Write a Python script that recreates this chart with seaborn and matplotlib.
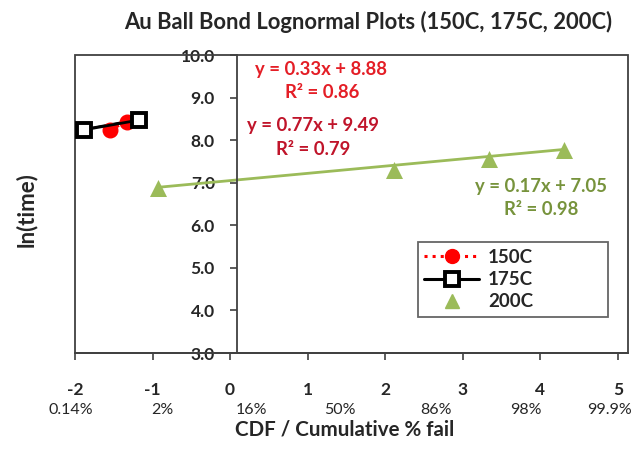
import matplotlib
matplotlib.use("Agg")
import matplotlib.pyplot as plt
from matplotlib.patches import Rectangle
from matplotlib.lines import Line2D
import seaborn as sns
import pandas as pd
import numpy as np

# Lognormal plot data: x = standard normal quantile, y = ln(time to fail)
x_150 = [-1.55, -1.33]
y_150 = [8.24, 8.43]
x_175 = [-1.89, -1.18]
y_175 = [8.24, 8.47]
x_200 = [-0.93, 2.11, 3.34, 4.30]
y_200 = [6.87, 7.30, 7.55, 7.77]

# Linear fits: (slope, intercept, R^2)
fit_150 = (0.77, 9.49, 0.79)
fit_175 = (0.33, 8.88, 0.86)
fit_200 = (0.17, 7.05, 0.98)

x_ticks = [-2, -1, 0, 1, 2, 3, 4, 5]
pct_labels = ["0.14%", "2%", "16%", "50%", "86%", "98%", "99.9%"]
pct_pos = [-2.06, -0.88, 0.28, 1.41, 2.65, 3.81, 4.89]
y_ticks = [3.0, 4.0, 5.0, 6.0, 7.0, 8.0, 9.0, 10.0]

sns.set_theme(style="white")
plt.rcParams["font.family"] = ["Lato", "DejaVu Sans"]

RED = "#ff0000"
GREEN = "#9bbb59"
GREEN_TXT = "#77933c"
DARK = "#262626"

fig = plt.figure(figsize=(6.41, 4.51), dpi=100)
ax = fig.add_axes([75 / 641, 1 - 353 / 451, (628 - 75) / 641, (353 - 55) / 451])

df150 = pd.DataFrame({"x": x_150, "y": y_150})
df175 = pd.DataFrame({"x": x_175, "y": y_175})
df200 = pd.DataFrame({"x": x_200, "y": y_200})


def trend(xs, fit):
    xr = np.array([min(xs), max(xs)])
    return pd.DataFrame({"x": xr, "y": fit[0] * xr + fit[1]})


# trendlines from the fitted equations
sns.lineplot(data=trend(x_200, fit_200), x="x", y="y", ax=ax, color=GREEN,
             linewidth=2, legend=False, zorder=2)
sns.lineplot(data=trend(x_150, fit_150), x="x", y="y", ax=ax, color="#c00000",
             linewidth=1.2, legend=False, zorder=2)
sns.lineplot(data=trend(x_175, fit_175), x="x", y="y", ax=ax, color="black",
             linewidth=1.5, legend=False, zorder=2)

# series
ax.plot(df150["x"], df150["y"], linestyle=":", color=RED, linewidth=2,
        marker="o", markersize=10.5, markerfacecolor=RED, markeredgecolor=RED, zorder=3)
ax.plot(df175["x"], df175["y"], linestyle="-", color="black", linewidth=2,
        marker="s", markersize=10, markerfacecolor="white", markeredgecolor="black",
        markeredgewidth=2.8, zorder=4)
sns.scatterplot(data=df200, x="x", y="y", ax=ax, marker="^", s=150, color=GREEN,
                edgecolor=GREEN, linewidth=0, zorder=5, legend=False)

ax.set_xlim(-2, 5.13)
ax.set_ylim(3, 10)

# axes: y axis crossing near x = 0, framed plot area
for s in ["top", "right"]:
    ax.spines[s].set_visible(False)
ax.spines["left"].set_position(("data", 0.09))
ax.spines["left"].set_color("#404040")
ax.spines["left"].set_linewidth(1.3)
ax.spines["bottom"].set_color("#404040")
ax.spines["bottom"].set_linewidth(1.3)
ax.add_patch(Rectangle((0, 0), 1, 1, transform=ax.transAxes, fill=False,
                       edgecolor="#404040", linewidth=1.3, clip_on=False, zorder=1))

ax.set_yticks(y_ticks)
ax.set_yticklabels([f"{v:.1f}" for v in y_ticks])
ax.set_xticks(x_ticks)
ax.set_xticklabels([str(v) for v in x_ticks])
ax.tick_params(axis="y", direction="out", length=5, width=1.2, color="#404040",
               pad=11, labelsize=12.5, labelcolor=DARK, left=True)
ax.tick_params(axis="x", direction="out", length=5, width=1.2, color="#404040",
               pad=16, labelsize=12.5, labelcolor=DARK, bottom=True)
for lab in ax.get_xticklabels() + ax.get_yticklabels():
    lab.set_fontweight("bold")

ax.set_xlabel("")
ax.set_ylabel("")

# cumulative percent labels under the quantile axis
for p, lab in zip(pct_pos, pct_labels):
    ax.text(p, -0.19, lab, transform=ax.get_xaxis_transform(), ha="center",
            va="center", fontsize=11.5, color=DARK, clip_on=False)

fig.text(345 / 641, 1 - 430 / 451, "CDF / Cumulative % fail", ha="center",
         va="center", fontsize=14.8, fontweight="bold", color=DARK)
fig.text(26 / 641, 1 - 210 / 451, "ln(time)", ha="center", va="center",
         rotation=90, fontsize=16, fontweight="bold", color=DARK)
fig.text(368 / 641, 1 - 22 / 451, "Au Ball Bond Lognormal Plots (150C, 175C, 200C)",
         ha="center", va="center", fontsize=15.8, fontweight="bold", color=DARK)


def px(xp, yp):
    return (xp / 641, 1 - yp / 451)


def eq_text(fit):
    return f"y = {fit[0]:.2f}x + {fit[1]:.2f}", f"R² = {fit[2]:.2f}"


EQ = 13.3
e, r = eq_text(fit_175)
fig.text(*px(321, 69), e, ha="center", va="center", fontsize=EQ, fontweight="bold", color="#e41e26")
fig.text(*px(322, 92), r, ha="center", va="center", fontsize=EQ, fontweight="bold", color="#e41e26")
e, r = eq_text(fit_150)
fig.text(*px(313, 125), e, ha="center", va="center", fontsize=EQ, fontweight="bold", color="#c0142a")
fig.text(*px(313, 150), r, ha="center", va="center", fontsize=EQ, fontweight="bold", color="#c0142a")
e, r = eq_text(fit_200)
fig.text(*px(541, 187), e, ha="center", va="center", fontsize=EQ, fontweight="bold", color=GREEN_TXT)
fig.text(*px(541, 210), r, ha="center", va="center", fontsize=EQ, fontweight="bold", color=GREEN_TXT)

handles = [
    Line2D([], [], linestyle=":", color=RED, linewidth=2.2, marker="o", markersize=10,
           markerfacecolor=RED, markeredgecolor=RED),
    Line2D([], [], linestyle="-", color="black", linewidth=2.2, marker="s", markersize=9.5,
           markerfacecolor="white", markeredgecolor="black", markeredgewidth=2.8),
    Line2D([], [], linestyle="none", color=GREEN, marker="^", markersize=10,
           markerfacecolor=GREEN, markeredgecolor=GREEN),
]
leg = ax.legend(handles, ["150C", "175C", "200C"], loc="lower left",
                bbox_to_anchor=(0.62, 0.121, 0.344, 0.251), mode="expand",
                borderaxespad=0, frameon=True, fancybox=False, fontsize=13.5,
                labelspacing=0.28, handlelength=2.9, handletextpad=0.5,
                borderpad=0.35)
leg.get_frame().set_edgecolor("#404040")
leg.get_frame().set_linewidth(1.3)
for t in leg.get_texts():
    t.set_fontweight("bold")
    t.set_color(DARK)

fig.savefig("out.png", dpi=100, facecolor="white")
